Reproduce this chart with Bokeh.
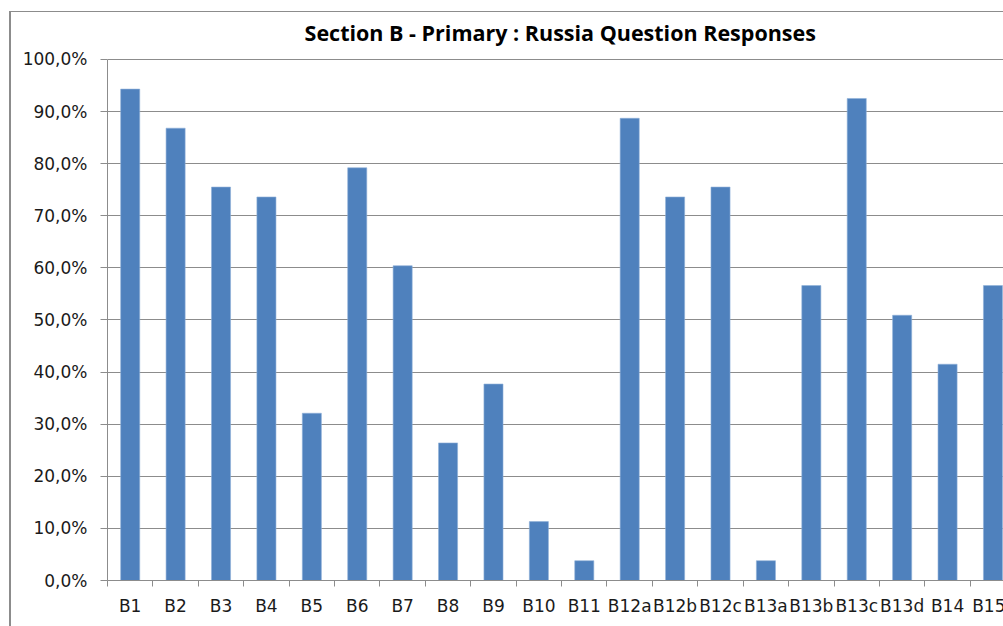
from bokeh.plotting import figure
from bokeh.models import Range1d, FixedTicker, ColumnDataSource, Label
from bokeh.embed import file_html
from bokeh.resources import INLINE

# Question categories and share of responses (%)
questions = ["B1", "B2", "B3", "B4", "B5", "B6", "B7", "B8", "B9", "B10",
             "B11", "B12a", "B12b", "B12c", "B13a", "B13b", "B13c", "B13d",
             "B14", "B15"]
responses = [94.3, 86.8, 75.5, 73.6, 32.1, 79.2, 60.4, 26.4, 37.7, 11.3,
             3.8, 88.7, 73.6, 75.5, 3.8, 56.6, 92.5, 50.9, 41.5, 56.6]
y_ticks = [0, 10, 20, 30, 40, 50, 60, 70, 80, 90, 100]
y_tick_labels = ["0,0%", "10,0%", "20,0%", "30,0%", "40,0%", "50,0%",
                 "60,0%", "70,0%", "80,0%", "90,0%", "100,0%"]
title_text = "Section B - Primary : Russia Question Responses"

centers = [i + 0.5 for i in range(len(questions))]
bounds = list(range(len(questions) + 1))

src = ColumnDataSource(dict(x=centers, top=responses))

GRID = "#8c8c8c"
FONT = "DejaVu Sans"
X_END = 19.82
Y_TOP = 109.0   # head-room above 100% holds the chart title

p = figure(width=994, height=615, output_backend="svg", toolbar_location=None,
           x_range=Range1d(0, X_END), y_range=Range1d(0, Y_TOP),
           min_border_left=96, min_border_right=0, min_border_top=0,
           min_border_bottom=48)
p.margin = (11, 0, 0, 9)
p.styles = {"border-left": "2px solid #8c8c8c", "border-top": "1px solid #8c8c8c",
            "box-sizing": "content-box"}

# chart title centred over the plot area
p.add_layout(Label(x=X_END / 2 + 0.06, y=105.2, text=title_text,
                   text_align="center", text_baseline="middle",
                   text_font="Open Sans", text_font_style="bold",
                   text_font_size="21.5px", text_color="#000000"))

p.vbar(x="x", top="top", width=0.42, bottom=0, source=src,
       fill_color="#4f81bd", line_color="#8fb0d8", line_width=0.6)

p.outline_line_color = None
p.background_fill_color = "white"
p.border_fill_color = "white"

p.xgrid.grid_line_color = None
p.ygrid.ticker = FixedTicker(ticks=y_ticks)
p.ygrid.grid_line_color = GRID
p.ygrid.grid_line_width = 1

# y axis
yax = p.yaxis[0]
yax.bounds = (0, 100)
yax.ticker = FixedTicker(ticks=y_ticks)
yax.major_label_overrides = dict(zip(y_ticks, y_tick_labels))
yax.axis_line_color = GRID
yax.major_tick_line_color = GRID
yax.major_tick_out = 7
yax.major_tick_in = 0
yax.minor_tick_line_color = None
yax.major_label_standoff = 13
yax.major_label_text_font = FONT
yax.major_label_text_font_size = "17px"
yax.major_label_text_color = "#1a1a1a"

# x axis: labels at bar centres, tick marks on category boundaries
xax = p.xaxis[0]
xax.ticker = FixedTicker(ticks=centers, minor_ticks=bounds)
xax.major_label_overrides = dict(zip(centers, questions))
xax.axis_line_color = GRID
xax.major_tick_line_color = None
xax.major_tick_out = 0
xax.major_tick_in = 0
xax.minor_tick_line_color = GRID
xax.minor_tick_out = 6
xax.minor_tick_in = 0
xax.major_label_standoff = 9
xax.major_label_text_font = FONT
xax.major_label_text_font_size = "17px"
xax.major_label_text_color = "#1a1a1a"

open("out.html", "w").write(file_html(p, INLINE))
